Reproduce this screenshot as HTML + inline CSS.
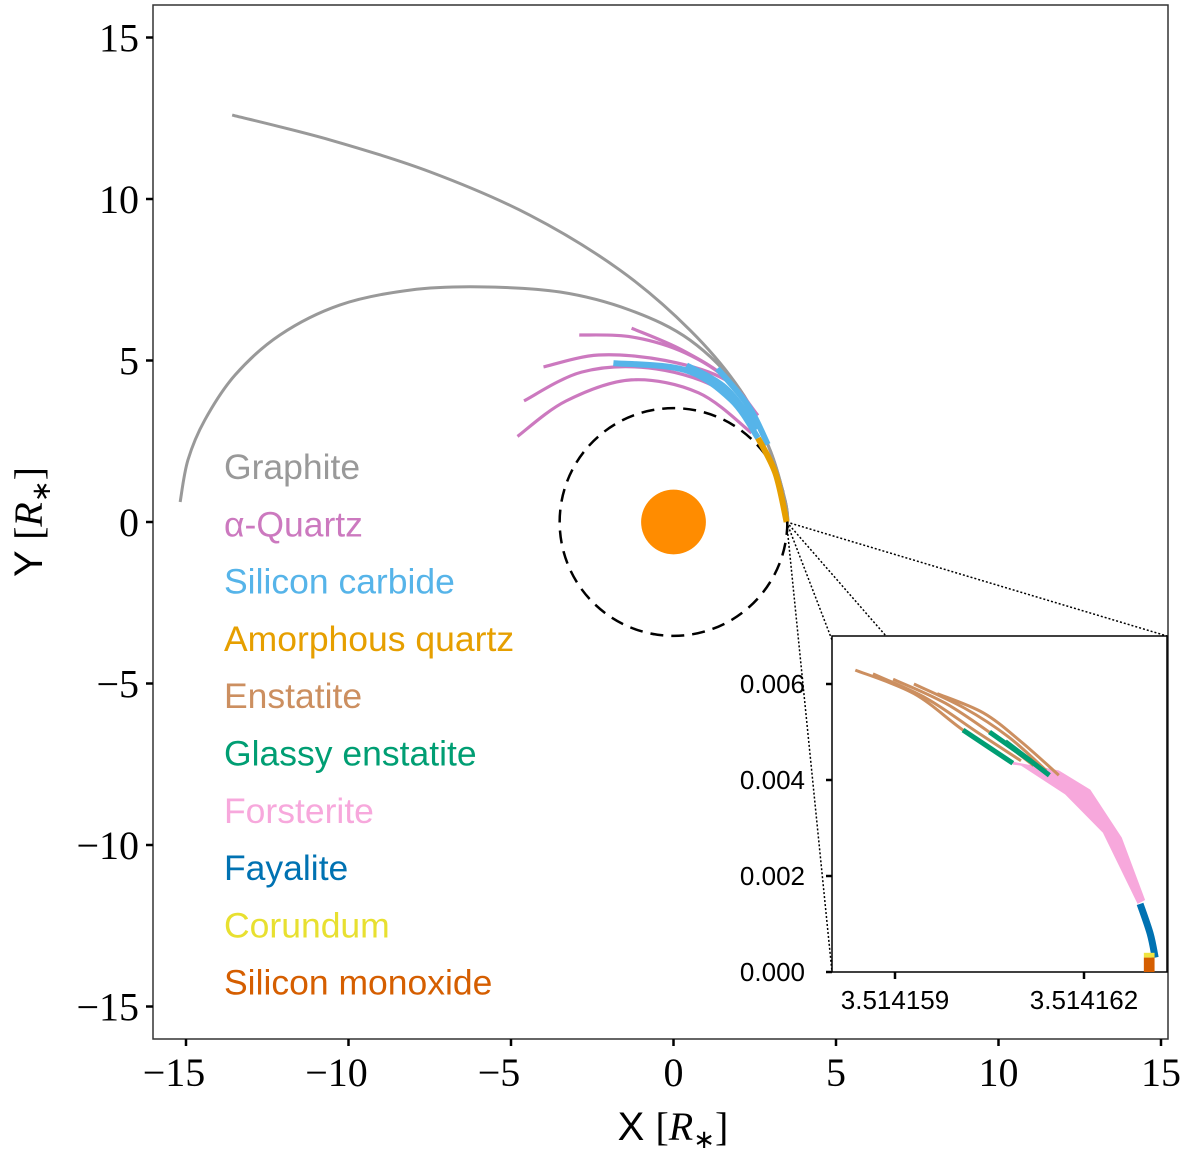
<!DOCTYPE html>
<html><head><meta charset="utf-8"><style>
html,body{margin:0;padding:0;background:#fff;}
svg{display:block;}
.tk{font-family:"Liberation Serif",serif;font-size:40px;fill:#000;}
.itk{font-family:"Liberation Sans",sans-serif;font-size:26px;fill:#000;}
.lg{font-family:"Liberation Sans",sans-serif;font-size:35.5px;}
</style></head><body>
<svg id="chart" width="1200" height="1154" viewBox="0 0 1200 1154" xmlns="http://www.w3.org/2000/svg">
<rect x="153" y="5" width="1015" height="1034" fill="none" stroke="#333" stroke-width="1.5"/>
<g id="main"></g>
<g id="axes"></g>
<text x="673" y="1140" text-anchor="middle" font-family="Liberation Sans,sans-serif" font-size="40">X <tspan font-family="Liberation Serif,serif">[<tspan font-style="italic">R</tspan><tspan font-size="26" dy="8">∗</tspan><tspan dy="-8">]</tspan></tspan></text>
<text transform="translate(42,522) rotate(-90)" text-anchor="middle" font-family="Liberation Sans,sans-serif" font-size="40">Y <tspan font-family="Liberation Serif,serif">[<tspan font-style="italic">R</tspan><tspan font-size="26" dy="8">∗</tspan><tspan dy="-8">]</tspan></tspan></text>
<g id="legend"></g>
<g id="zoomlines"></g>
<rect x="832" y="636" width="335" height="336" fill="#fff" stroke="#000" stroke-width="1.5"/>
<g id="inset"></g>
</svg>
<script>
// ---- main plot data (units of stellar radii) ----
const xTicks=[-15,-10,-5,0,5,10,15];
const yTicks=[15,10,5,0,-5,-10,-15];
const graphite1=[[-13.58,12.60],[-10.57,11.83],[-7.49,10.84],[-4.42,9.50],[-1.65,7.80],[0.51,5.94],[2.05,4.09],[2.97,2.23],[3.43,0.68],[3.52,0.05]];
const graphite2=[[-15.18,0.62],[-14.94,1.92],[-14.42,3.16],[-13.49,4.55],[-12.11,5.79],[-10.26,6.72],[-8.11,7.18],[-5.95,7.28],[-3.49,7.12],[-1.34,6.56],[0.51,5.63],[2.05,4.09],[2.97,2.23],[3.43,0.68],[3.52,0.05]];
const quartz1=[[-1.29,6.0],[0.25,5.33],[1.69,4.4],[2.5,3.2]];
const quartz2=[[-2.9,5.79],[-1.29,5.73],[0.37,5.23],[1.78,4.3],[2.55,3.1]];
const quartz3=[[-4.0,4.8],[-2.3,5.17],[-0.25,5.0],[1.6,4.4],[2.6,3.3]];
const quartz4=[[-4.6,3.75],[-2.83,4.64],[-0.77,4.77],[1.29,4.18],[2.6,2.94]];
const quartz5=[[-4.8,2.65],[-3.3,3.75],[-1.3,4.4],[0.77,4.0],[2.4,2.76]];
const sic1=[[-1.85,4.92],[0.37,4.7],[1.78,3.78],[2.6,2.6]];
const sic2=[[0.4,4.85],[1.6,4.15],[2.6,2.9]];
const sic3=[[1.35,4.75],[2.3,3.6],[2.9,2.4]];
const amorph=[[2.6,2.6],[3.14,1.5],[3.48,0.0]];
const starR=1.0, ringR=3.514;
// ---- inset data (x: 1e-6 offset from 3.514159, y: absolute) ----
const ixTicks=[0,3], ixLabels=["3.514159","3.514162"];
const iyTicks=[0,0.002,0.004,0.006], iyLabels=["0.000","0.002","0.004","0.006"];
const enst1=[[-0.63,0.00629],[0.3,0.0058],[1.08,0.00504],[1.87,0.00435]];
const enst2=[[-0.35,0.00621],[0.5,0.0057],[1.3,0.0050],[2.0,0.0044]];
const enst3=[[-0.03,0.0061],[0.8,0.0056],[1.6,0.0049],[2.2,0.0043]];
const enst4=[[0.30,0.006],[1.1,0.0055],[1.8,0.0049],[2.4,0.0042]];
const enst5=[[0.67,0.0058],[1.4,0.0054],[2.0,0.0048],[2.6,0.0041]];
const glassy1=[[1.08,0.00504],[1.87,0.00435]];
const glassy2=[[1.5,0.0050],[2.15,0.0044]];
const glassy3=[[1.75,0.0048],[2.45,0.0041]];
const fostUpper=[[1.87,0.00438],[2.6,0.0042],[3.1,0.0038],[3.6,0.0028],[3.97,0.0015]];
const fostLower=[[3.85,0.00142],[3.3,0.0029],[2.7,0.0037],[2.0,0.0043],[1.87,0.00432]];
const fayalite=[[3.89,0.00142],[4.05,0.0008],[4.13,0.0003]];
const corundumY=[0.0003,0.0004], monoxideY=[0,0.0003], inX=[3.95,4.12];

const NS='http://www.w3.org/2000/svg';
const X=x=>673.5+x*32.5, Y=y=>522-y*32.3;
const IX=x=>895+x*63, IY=y=>972-y*48000;
function mk(tag,attrs,parent){const e=document.createElementNS(NS,tag);for(const k in attrs)e.setAttribute(k,attrs[k]);parent.appendChild(e);return e;}
function smooth(pts){let d='M'+pts[0][0]+','+pts[0][1];for(let i=0;i<pts.length-1;i++){const p0=pts[i-1]||pts[i],p1=pts[i],p2=pts[i+1],p3=pts[i+2]||p2;
const c1=[p1[0]+(p2[0]-p0[0])/6,p1[1]+(p2[1]-p0[1])/6],c2=[p2[0]-(p3[0]-p1[0])/6,p2[1]-(p3[1]-p1[1])/6];
d+=' C'+c1+' '+c2+' '+p2;}return d;}
const main=document.getElementById('main'), axes=document.getElementById('axes'), inset=document.getElementById('inset');
function curve(data,fx,fy,color,w,name,parent){const p=mk('path',{d:smooth(data.map(q=>[fx(q[0]),fy(q[1])])),fill:'none',stroke:color,'stroke-width':w,'stroke-linecap':'butt'},parent);

return p;}
let c=mk('circle',{cx:X(0),cy:Y(0),r:ringR*32.4,fill:'none',stroke:'#000','stroke-width':2.5,'stroke-dasharray':'13,8'},main);


c=mk('circle',{cx:X(0),cy:Y(0),r:starR*32.4,fill:'#ff8c00'},main);


curve(graphite1,X,Y,'#999',3,'graphite-trajectory-1',main);
curve(graphite2,X,Y,'#999',3,'graphite-trajectory-2',main);
[quartz1,quartz2,quartz3,quartz4,quartz5].forEach((q,i)=>curve(q,X,Y,'#cc79bf',3.2,'quartz-trajectory-'+(i+1),main));
[sic1,sic2,sic3].forEach((q,i)=>curve(q,X,Y,'#56b4e9',6,'silicon-carbide-trajectory-'+(i+1),main));
curve(amorph,X,Y,'#e69f00',6,'amorphous-quartz-trajectory',main);
xTicks.forEach(v=>{const l=mk('line',{x1:X(v),x2:X(v),y1:1039,y2:1046,stroke:'#000','stroke-width':2.5},axes);


const t=mk('text',{x:X(v)-(v<0?12:0),y:1086,'text-anchor':'middle',class:'tk'},axes);t.textContent=(v<0?'−':'')+Math.abs(v);

});
yTicks.forEach(v=>{const l=mk('line',{x1:146,x2:153,y1:Y(v),y2:Y(v),stroke:'#000','stroke-width':2.5},axes);


const t=mk('text',{x:139,y:Y(v)+14,'text-anchor':'end',class:'tk'},axes);t.textContent=(v<0?'−':'')+Math.abs(v);

});
const legNames=['Graphite','α-Quartz','Silicon carbide','Amorphous quartz','Enstatite','Glassy enstatite','Forsterite','Fayalite','Corundum','Silicon monoxide'];
const legColors=['#999999','#cc79bf','#56b4e9','#e69f00','#cc8f60','#009e73','#f7a8dc','#0072b2','#e8e030','#d55e00'];
const lg=document.getElementById('legend');
legNames.forEach((n,i)=>{const t=mk('text',{x:224,y:479+i*57.3,fill:legColors[i],class:'lg'},lg);t.textContent=n;

});
const zl=document.getElementById('zoomlines');
[[1167,636],[886,636],[832,640],[832,972]].forEach(p=>{const l=mk('line',{x1:X(3.48),y1:Y(0),x2:p[0],y2:p[1],stroke:'#000','stroke-width':1.5,'stroke-dasharray':'2,2'},zl);

});
let pts=fostUpper.concat(fostLower).map(q=>IX(q[0])+','+IY(q[1])).join(' ');
let pg=mk('polygon',{points:pts,fill:'#f7a8dc'},inset);


[enst1,enst2,enst3,enst4,enst5].forEach((q,i)=>curve(q,IX,IY,'#cc8f60',3,'enstatite-trajectory-'+(i+1),inset));
[glassy1,glassy2,glassy3].forEach((q,i)=>curve(q,IX,IY,'#009e73',5,'glassy-enstatite-trajectory-'+(i+1),inset));
curve(fayalite,IX,IY,'#0072b2',7,'fayalite-trajectory',inset);
let r=mk('rect',{x:IX(inX[0]),y:IY(corundumY[1]),width:IX(inX[1])-IX(inX[0]),height:IY(corundumY[0])-IY(corundumY[1]),fill:'#f0e442'},inset);


r=mk('rect',{x:IX(inX[0]),y:IY(monoxideY[1]),width:IX(inX[1])-IX(inX[0]),height:IY(monoxideY[0])-IY(monoxideY[1]),fill:'#d55e00'},inset);


ixTicks.forEach((v,i)=>{const l=mk('line',{x1:IX(v),x2:IX(v),y1:972,y2:979,stroke:'#000','stroke-width':2.5},inset);


const t=mk('text',{x:IX(v),y:1009,'text-anchor':'middle',class:'itk'},inset);t.textContent=ixLabels[i];

});
iyTicks.forEach((v,i)=>{const l=mk('line',{x1:826,x2:832,y1:IY(v),y2:IY(v),stroke:'#000','stroke-width':2.5},inset);


const t=mk('text',{x:805,y:IY(v)+9,'text-anchor':'end',class:'itk'},inset);t.textContent=iyLabels[i];

});
</script>
</body></html>
